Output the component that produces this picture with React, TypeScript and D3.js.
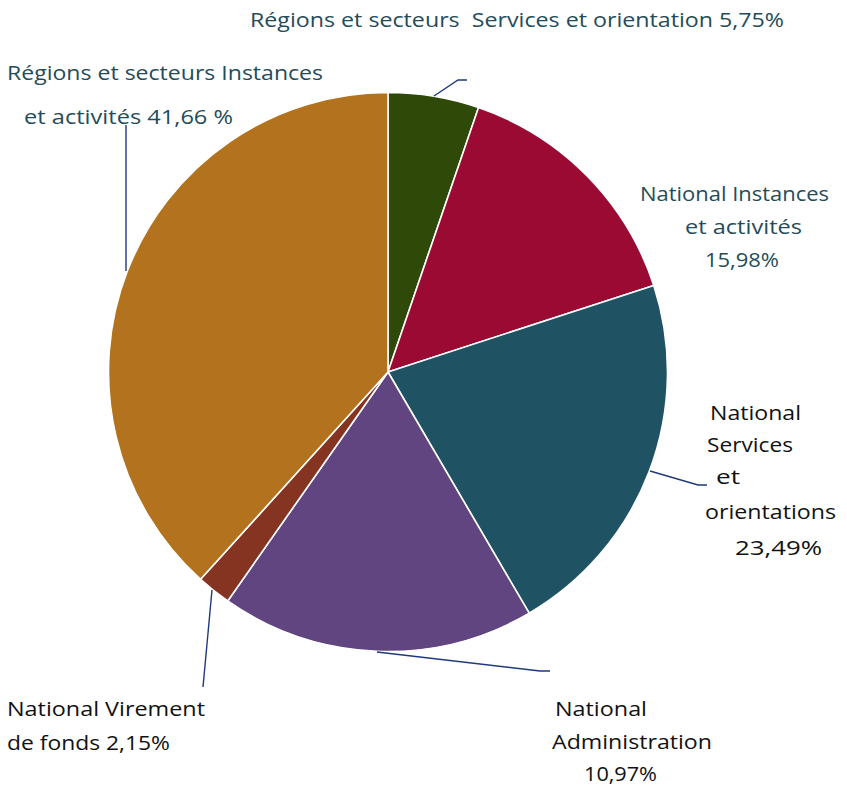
import React from "react";
import * as d3 from "d3";

const categories = [
  "Régions et secteurs Services et orientation",
  "National Instances et activités",
  "National Services et orientations",
  "National Administration",
  "National Virement de fonds",
  "Régions et secteurs Instances et activités",
];
const values = [5.25, 14.74, 21.58, 18.15, 1.98, 38.3];
const colors = ["#2f4909", "#9b0a33", "#1f5364", "#614580", "#863422", "#b3721d"];

type Line = { t: string; x: number; y: number; w: number; c: string };
const TEAL = "#244c58";
const BLK = "#111";
const labelLines: Line[] = [
  { t: "Régions et secteurs \u00a0Services et orientation 5,75%", x: 250, y: 27, w: 534, c: TEAL },
  { t: "Régions et secteurs Instances", x: 7, y: 80, w: 316, c: TEAL },
  { t: "et activités 41,66 %", x: 24, y: 124, w: 209, c: TEAL },
  { t: "National Instances", x: 640, y: 201, w: 189, c: TEAL },
  { t: "et activités", x: 685, y: 234, w: 117, c: TEAL },
  { t: "15,98%", x: 705, y: 267, w: 74, c: TEAL },
  { t: "National", x: 710, y: 420, w: 91, c: BLK },
  { t: "Services", x: 707, y: 452, w: 86, c: BLK },
  { t: "et", x: 716, y: 484, w: 24, c: BLK },
  { t: "orientations", x: 705, y: 519, w: 131, c: BLK },
  { t: "23,49%", x: 735, y: 555, w: 87, c: BLK },
  { t: "National Virement", x: 7, y: 716, w: 198, c: BLK },
  { t: "de fonds 2,15%", x: 7, y: 750, w: 163, c: BLK },
  { t: "National", x: 555, y: 716, w: 92, c: BLK },
  { t: "Administration", x: 552, y: 749, w: 160, c: BLK },
  { t: "10,97%", x: 584, y: 781, w: 73, c: BLK },
];

const leaders: [number, number][][] = [
  [[434, 96], [458, 80], [467, 80]],
  [[650, 471], [698, 485], [707, 485]],
  [[377, 652], [540, 671], [550, 671]],
  [[212, 590], [203, 687]],
  [[126, 271], [126, 125]],
];

export default function App() {
  const cx = 388, cy = 372, r = 279.5;
  const pie = d3.pie<number>().sort(null).value((d) => d)(values);
  const arc = d3.arc<d3.PieArcDatum<number>>().innerRadius(0).outerRadius(r);
  const line = d3.line();
  return (
    <svg width={847} height={786} style={{ position: "absolute", left: 0, top: 0, background: "#fff" }}>
      <g transform={`translate(${cx},${cy})`}>
        {pie.map((p, i) => (
          <path key={categories[i]} d={arc(p) || ""} fill={colors[i]} stroke="#fff" strokeWidth={1.6} strokeLinejoin="round" />
        ))}
      </g>
      {leaders.map((l, i) => (
        <path key={i} d={line(l) || ""} fill="none" stroke="#1f3a78" strokeWidth={1.4} />
      ))}
      {labelLines.map((l, i) => (
        <text key={i} x={l.x} y={l.y} fill={l.c} fontFamily="'Open Sans', 'Noto Sans', sans-serif" fontSize={20.5}
          textLength={l.w} lengthAdjust="spacingAndGlyphs">{l.t}</text>
      ))}
    </svg>
  );
}
